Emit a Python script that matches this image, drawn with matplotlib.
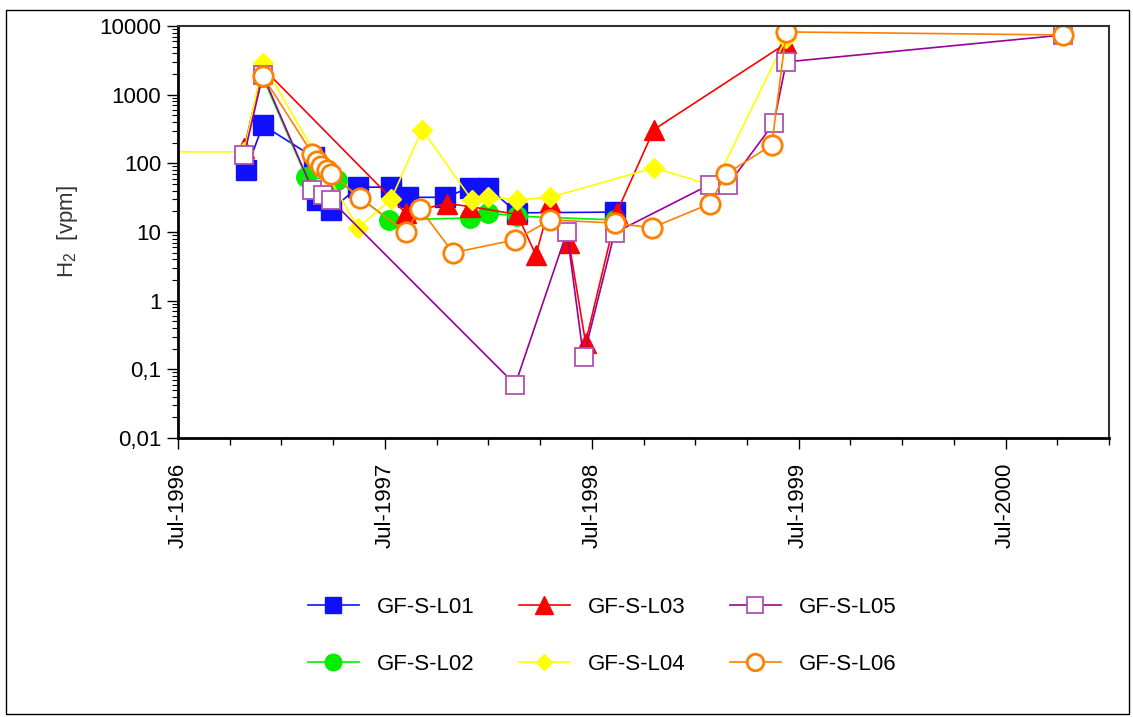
import matplotlib
matplotlib.use("Agg")
import matplotlib.pyplot as plt
from matplotlib.ticker import FixedLocator, NullFormatter, LogLocator
from matplotlib.patches import Rectangle

plt.rcParams['font.family'] = ['Liberation Sans', 'DejaVu Sans']
plt.rcParams['mathtext.fontset'] = 'custom'
plt.rcParams['mathtext.rm'] = 'Liberation Sans'
plt.rcParams['mathtext.it'] = 'Liberation Sans'

# decimal-year x values, H2 values in vpm
l01_x = [1996.83, 1996.91, 1997.155, 1997.17, 1997.24, 1997.37, 1997.53, 1997.61, 1997.79, 1997.91, 1998.00, 1998.14, 1998.61]
l01_y = [80, 360, 123, 29, 21, 45, 45, 32, 32, 44, 44, 19, 19.5]

l02_x = [1996.91, 1997.12, 1997.27, 1997.52, 1997.91, 1998.00, 1998.14, 1998.61]
l02_y = [1800, 63, 57, 15, 16, 19, 17, 15]

l03_x = [1996.82, 1996.91, 1997.60, 1997.80, 1997.91, 1998.14, 1998.23, 1998.30, 1998.39, 1998.47, 1998.62, 1998.80, 1999.44]
l03_y = [167, 2450, 19, 26, 23.5, 18, 4.6, 27.6, 7, 0.245, 19, 310, 5600]

l04_x = [1996.2, 1996.82, 1996.91, 1997.37, 1997.53, 1997.68, 1997.92, 1998.00, 1998.14, 1998.30, 1998.80, 1999.09, 1999.44]
l04_y = [147, 147, 2900, 11.5, 30, 310, 29.5, 32, 29.5, 32, 86, 47, 6700]

l05_x = [1996.82, 1996.91, 1997.15, 1997.20, 1997.24, 1998.13, 1998.38, 1998.46, 1998.61, 1999.07, 1999.16, 1999.38, 1999.44, 2000.78]
l05_y = [132, 1940, 41, 35, 29, 0.06, 10, 0.15, 9.7, 49, 49, 385, 3000, 7400]

l06_x = [1996.91, 1997.15, 1997.17, 1997.19, 1997.22, 1997.24, 1997.38, 1997.60, 1997.67, 1997.83, 1998.13, 1998.30, 1998.61, 1998.79, 1999.07, 1999.15, 1999.37, 1999.44, 2000.78]
l06_y = [1870, 137, 108, 92, 80, 70, 31.6, 10, 21.8, 5, 7.7, 15, 13.5, 11.5, 25.7, 70, 185, 8200, 7400]

year_ticks = [1996.5, 1997.5, 1998.5, 1999.5, 2000.5]
year_labels = ["Jul-1996", "Jul-1997", "Jul-1998", "Jul-1999", "Jul-2000"]
y_ticks = [0.01, 0.1, 1, 10, 100, 1000, 10000]
y_labels = ["0,01", "0,1", "1", "10", "100", "1000", "10000"]

fig = plt.figure(figsize=(11.33, 7.17), dpi=100)
ax = fig.add_axes([178/1133, 1-438/717, (1109-178)/1133, (438-26)/717])

ms_kw = dict(lw=1.2)
ax.plot(l01_x, l01_y, color='#1010ff', marker='s', ms=14, mfc='#1010ff', mec='#1010ff', label='GF-S-L01', **ms_kw)
ax.plot(l02_x, l02_y, color='#00ee00', marker='o', ms=14, mfc='#00ee00', mec='#00ee00', label='GF-S-L02', **ms_kw)
ax.plot(l03_x, l03_y, color='#ff0000', marker='^', ms=15, mfc='#ff0000', mec='#ff0000', label='GF-S-L03', **ms_kw)
ax.plot(l04_x, l04_y, color='#ffff00', marker='D', ms=10, mfc='#ffff00', mec='#ffff00', label='GF-S-L04', **ms_kw)
ax.plot(l05_x, l05_y, color='#990099', marker='s', ms=13, mfc='white', mec='#b050b0', mew=1.3, label='GF-S-L05', **ms_kw)
ax.plot(l06_x, l06_y, color='#ff8000', marker='o', ms=14, mfc='white', mec='#ff8000', mew=2.0, label='GF-S-L06', **ms_kw)

ax.set_yscale('log')
ax.set_ylim(0.01, 10000)
ax.set_xlim(1996.5, 2001.0)
ax.yaxis.set_major_locator(FixedLocator(y_ticks))
ax.set_yticklabels(y_labels, fontsize=16)
ax.yaxis.set_minor_locator(LogLocator(base=10, subs=range(2, 10), numticks=20))
ax.yaxis.set_minor_formatter(NullFormatter())
ax.set_xticks(year_ticks)
ax.set_xticklabels(year_labels, rotation=90, fontsize=16)
ax.xaxis.set_minor_locator(FixedLocator([1996.5 + 0.25 * k for k in range(19)]))
ax.tick_params(axis='x', which='major', length=8, width=1, pad=10, direction='out')
ax.tick_params(axis='x', which='minor', length=5, width=1, direction='out')
ax.tick_params(axis='y', which='major', length=8, width=1, pad=4, direction='out')
ax.tick_params(axis='y', which='minor', length=4, width=0.8, direction='out')

for s in ['left', 'bottom']:
    ax.spines[s].set_linewidth(2)
    ax.spines[s].set_color('black')
for s in ['top', 'right']:
    ax.spines[s].set_linewidth(1.5)
    ax.spines[s].set_color('#333333')

ax.set_ylabel(r'H$_{\mathrm{2}}$  [vpm]', fontsize=16, color='#333333', labelpad=14)

handles, labels = ax.get_legend_handles_labels()
order = [0, 1, 2, 3, 4, 5]
leg = fig.legend([handles[i] for i in order], [labels[i] for i in order], ncol=3,
                 loc='center', bbox_to_anchor=(602/1133, 1-636/717), frameon=False,
                 fontsize=16, handlelength=2.3, handletextpad=0.8, columnspacing=2.0,
                 labelspacing=1.6, markerscale=0.85)

fig.patches.append(Rectangle((6/1133, 1-714/717), (1129-6)/1133, (714-10)/717,
                             transform=fig.transFigure, fill=False, edgecolor='black', lw=1))

fig.savefig('out.png', dpi=100)
